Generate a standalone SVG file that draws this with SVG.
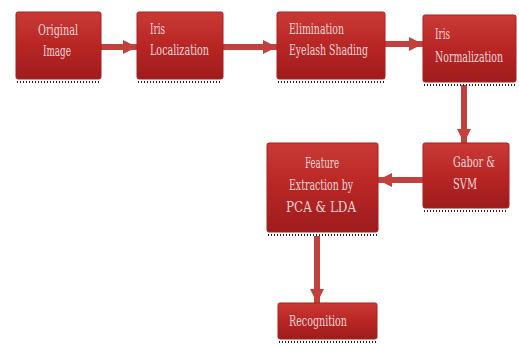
<svg xmlns="http://www.w3.org/2000/svg" width="519" height="345" viewBox="0 0 519 345">
  <defs>
    <linearGradient id="boxFill" x1="0" y1="0" x2="0" y2="1">
      <stop offset="0" stop-color="#c93a36"/>
      <stop offset="0.5" stop-color="#b82624"/>
      <stop offset="1" stop-color="#9e1c1d"/>
    </linearGradient>
    <marker id="head" viewBox="0 0 10 10" refX="10" refY="5" markerWidth="2.4" markerHeight="2.4" orient="auto" markerUnits="strokeWidth">
      <path d="M0,0 L10,5 L0,10 Z" fill="#c2413f"/>
    </marker>
  </defs>
  <style>
    .box { fill: url(#boxFill); stroke: #a82020; stroke-width: 1; }
    .shadow { stroke: #222; stroke-width: 2; stroke-dasharray: 1 2; fill: none; }
    .lbl { font-family: "DejaVu Serif", serif; font-size: 14px; fill: #f2d6d6; }
    .mid { text-anchor: middle; }
    .edge { stroke: #c2413f; stroke-width: 6; fill: none; marker-end: url(#head); }
  </style>
  <rect width="519" height="345" fill="#ffffff"/>

  <g id="connectors">
    <line class="edge" x1="101" y1="47" x2="137" y2="47"/>
    <line class="edge" x1="223" y1="47" x2="277" y2="47"/>
    <line class="edge" x1="385" y1="44" x2="423" y2="44"/>
    <line class="edge" x1="464" y1="85" x2="464" y2="143"/>
    <line class="edge" x1="423" y1="180" x2="378" y2="180"/>
    <line class="edge" x1="317" y1="236" x2="317" y2="303"/>
  </g>

  <g id="original-image">
    <rect class="box" x="16" y="12" width="85" height="67" rx="2"/>
    <line class="shadow" x1="17" y1="82" x2="101" y2="82"/>
    <text class="lbl" x="38" y="35" textLength="40" lengthAdjust="spacingAndGlyphs">Original</text>
    <text class="lbl" x="43" y="56" textLength="28" lengthAdjust="spacingAndGlyphs">Image</text>
  </g>

  <g id="iris-localization">
    <rect class="box" x="137" y="12" width="86" height="67" rx="2"/>
    <line class="shadow" x1="138" y1="82" x2="222" y2="82"/>
    <text class="lbl" x="150" y="34" textLength="15" lengthAdjust="spacingAndGlyphs">Iris</text>
    <text class="lbl" x="150" y="55" textLength="59" lengthAdjust="spacingAndGlyphs">Localization</text>
  </g>

  <g id="eyelash-elimination">
    <rect class="box" x="277" y="12" width="108" height="67" rx="2"/>
    <line class="shadow" x1="278" y1="82" x2="384" y2="82"/>
    <text class="lbl" x="289" y="34" textLength="55" lengthAdjust="spacingAndGlyphs">Elimination</text>
    <text class="lbl" x="289" y="55" textLength="79" lengthAdjust="spacingAndGlyphs">Eyelash Shading</text>
  </g>

  <g id="iris-normalization">
    <rect class="box" x="423" y="15" width="93" height="67" rx="2"/>
    <line class="shadow" x1="424" y1="85" x2="515" y2="85"/>
    <text class="lbl" x="435" y="39" textLength="15" lengthAdjust="spacingAndGlyphs">Iris</text>
    <text class="lbl" x="435" y="62" textLength="68" lengthAdjust="spacingAndGlyphs">Normalization</text>
  </g>

  <g id="gabor-svm">
    <rect class="box" x="423" y="143" width="86" height="65" rx="2"/>
    <line class="shadow" x1="424" y1="211" x2="508" y2="211"/>
    <text class="lbl" x="453" y="167" textLength="42" lengthAdjust="spacingAndGlyphs">Gabor &amp;</text>
    <text class="lbl" x="453" y="189" textLength="24" lengthAdjust="spacingAndGlyphs">SVM</text>
  </g>

  <g id="feature-extraction">
    <rect class="box" x="267" y="143" width="111" height="89" rx="2"/>
    <line class="shadow" x1="268" y1="235" x2="377" y2="235"/>
    <text class="lbl" x="305" y="168" textLength="34" lengthAdjust="spacingAndGlyphs">Feature</text>
    <text class="lbl" x="289" y="190" textLength="64" lengthAdjust="spacingAndGlyphs">Extraction by</text>
    <text class="lbl" x="286" y="212" textLength="70" lengthAdjust="spacingAndGlyphs">PCA &amp; LDA</text>
  </g>

  <g id="recognition">
    <rect class="box" x="278" y="303" width="99" height="36" rx="2"/>
    <line class="shadow" x1="279" y1="342" x2="376" y2="342"/>
    <text class="lbl" x="289" y="326" textLength="58" lengthAdjust="spacingAndGlyphs">Recognition</text>
  </g>
</svg>
